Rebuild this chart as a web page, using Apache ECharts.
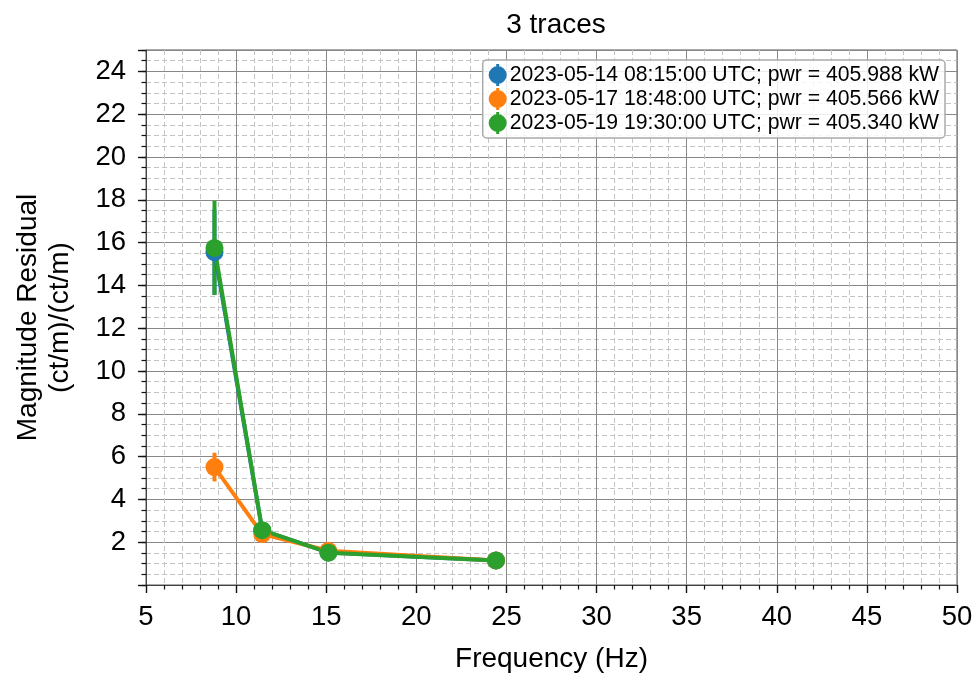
<!DOCTYPE html>
<html>
<head>
<meta charset="utf-8">
<script src="https://cdn.jsdelivr.net/npm/echarts@6/dist/echarts.min.js"></script>
<style>
html,body{margin:0;padding:0;background:#fff;}
#c{width:980px;height:678px;}
</style>
</head>
<body>
<div id="c"></div>
<script>
// ---- data ----
const freq = [8.8, 11.45, 15.12, 24.42];
const traceNames = [
  '2023-05-14 08:15:00 UTC; pwr = 405.988 kW',
  '2023-05-17 18:48:00 UTC; pwr = 405.566 kW',
  '2023-05-19 19:30:00 UTC; pwr = 405.340 kW'
];
const blueVals   = [15.55, 2.55, 1.52, 1.15];
const blueErr    = [2.0, 0.1, 0.05, 0.03];
const orangeVals = [5.51, 2.38, 1.60, 1.15];
const orangeErr  = [0.67, 0.1, 0.05, 0.03];
const greenVals  = [15.75, 2.56, 1.51, 1.15];
const greenErr   = [2.2, 0.1, 0.05, 0.03];
const colors = ['#1f77b4', '#ff7f0e', '#2ca02c'];

const FONT = 'Liberation Sans, Arial, Helvetica, sans-serif';
const chart = echarts.init(document.getElementById('c'), null, {renderer: 'canvas'});

function errSeries(vals, errs, color, idx) {
  return {
    name: '_err' + idx,
    type: 'custom',
    xAxisIndex: 0, yAxisIndex: 1,
    data: freq.map((f, i) => [f, vals[i], errs[i]]),
    encode: {x: 0, y: 1},
    renderItem: function (params, api) {
      const x = api.value(0), y = api.value(1), e = api.value(2);
      const p1 = api.coord([x, y - e]);
      const p2 = api.coord([x, y + e]);
      return {
        type: 'line',
        shape: {x1: p1[0], y1: p1[1], x2: p2[0], y2: p2[1]},
        style: {stroke: color, lineWidth: 4}
      };
    },
    silent: true
  };
}
function lineSeries(vals, color, name) {
  return {
    name: name,
    type: 'line',
    xAxisIndex: 0, yAxisIndex: 1,
    data: freq.map((f, i) => [f, vals[i]]),
    symbol: 'circle',
    symbolSize: 18,
    showSymbol: true,
    lineStyle: {color: color, width: 4},
    itemStyle: {color: color},
    emphasis: {disabled: true}
  };
}

const icon = 'path://M0,11 A9,9 0 1,1 18,11 A9,9 0 1,1 0,11 Z M7.5,0 L10.5,0 L10.5,22 L7.5,22 Z';

const option = {
  animation: false,
  backgroundColor: '#fff',
  title: {
    text: '3 traces',
    left: 551, top: 6, textAlign: 'center',
    textStyle: {fontFamily: FONT, fontSize: 28, fontWeight: 'normal', color: '#000'}
  },
  grid: {
    left: 146, right: 23, top: 50, bottom: 90,
    show: true, borderColor: '#555', borderWidth: 1, backgroundColor: 'transparent'
  },
  legend: {
    orient: 'vertical',
    right: 35, top: 60,
    data: traceNames.map(n => ({name: n, icon: icon})),
    itemWidth: 18, itemHeight: 22, itemGap: 2,
    padding: [4, 6, 4, 6],
    borderColor: '#aaa', borderWidth: 1.5, borderRadius: 4,
    backgroundColor: 'rgba(255,255,255,0.85)',
    textStyle: {fontFamily: FONT, fontSize: 21.2, color: '#000', lineHeight: 22, padding: [0,0,0,-2]},
    selectedMode: false
  },
  xAxis: [{
    type: 'value', min: 5, max: 50, interval: 5,
    name: 'Frequency (Hz)', nameLocation: 'middle', nameGap: 60,
    nameTextStyle: {fontFamily: FONT, fontSize: 28, color: '#000'},
    axisLine: {show: true, lineStyle: {color: '#444', width: 1}},
    axisTick: {show: true, length: 8, lineStyle: {color: '#111', width: 1.4}},
    minorTick: {show: true, splitNumber: 5, length: 4.5, lineStyle: {color: '#111', width: 1.2}},
    axisLabel: {fontFamily: FONT, fontSize: 27.5, color: '#000', margin: 18},
    splitLine: {show: true, lineStyle: {color: '#888', width: 1}},
    minorSplitLine: {show: true, lineStyle: {color: '#c4c4c4', width: 1, type: [5, 3]}}
  }],
  yAxis: [{
    // minor grid / ticks
    type: 'value', position: 'left', min: 0, max: 25, interval: 0.5,
    axisLine: {show: false},
    axisTick: {show: true, length: 4.5, lineStyle: {color: '#111', width: 1.2}},
    axisLabel: {show: false},
    splitLine: {show: true, lineStyle: {color: '#c4c4c4', width: 1, type: [5, 3]}}
  }, {
    type: 'value', position: 'left', min: 0, max: 25, interval: 2,
    name: 'Magnitude Residual\n(ct/m)/(ct/m)', nameLocation: 'middle', nameGap: 70, nameRotate: 90,
    nameTextStyle: {fontFamily: FONT, fontSize: 28, color: '#000', lineHeight: 32},
    axisLine: {show: true, lineStyle: {color: '#444', width: 1}},
    axisTick: {show: true, length: 8, lineStyle: {color: '#111', width: 1.4}},
    axisLabel: {
      fontFamily: FONT, fontSize: 27.5, color: '#000', margin: 20,
      formatter: function (v) { return (v > 0 && v % 2 === 0) ? String(v) : ''; }
    },
    splitLine: {show: true, lineStyle: {color: '#888', width: 1}}
  }],
  series: [
    errSeries(blueVals, blueErr, colors[0], 0),
    lineSeries(blueVals, colors[0], traceNames[0]),
    errSeries(orangeVals, orangeErr, colors[1], 1),
    lineSeries(orangeVals, colors[1], traceNames[1]),
    errSeries(greenVals, greenErr, colors[2], 2),
    lineSeries(greenVals, colors[2], traceNames[2])
  ]
};
chart.setOption(option);
</script>
</body>
</html>
